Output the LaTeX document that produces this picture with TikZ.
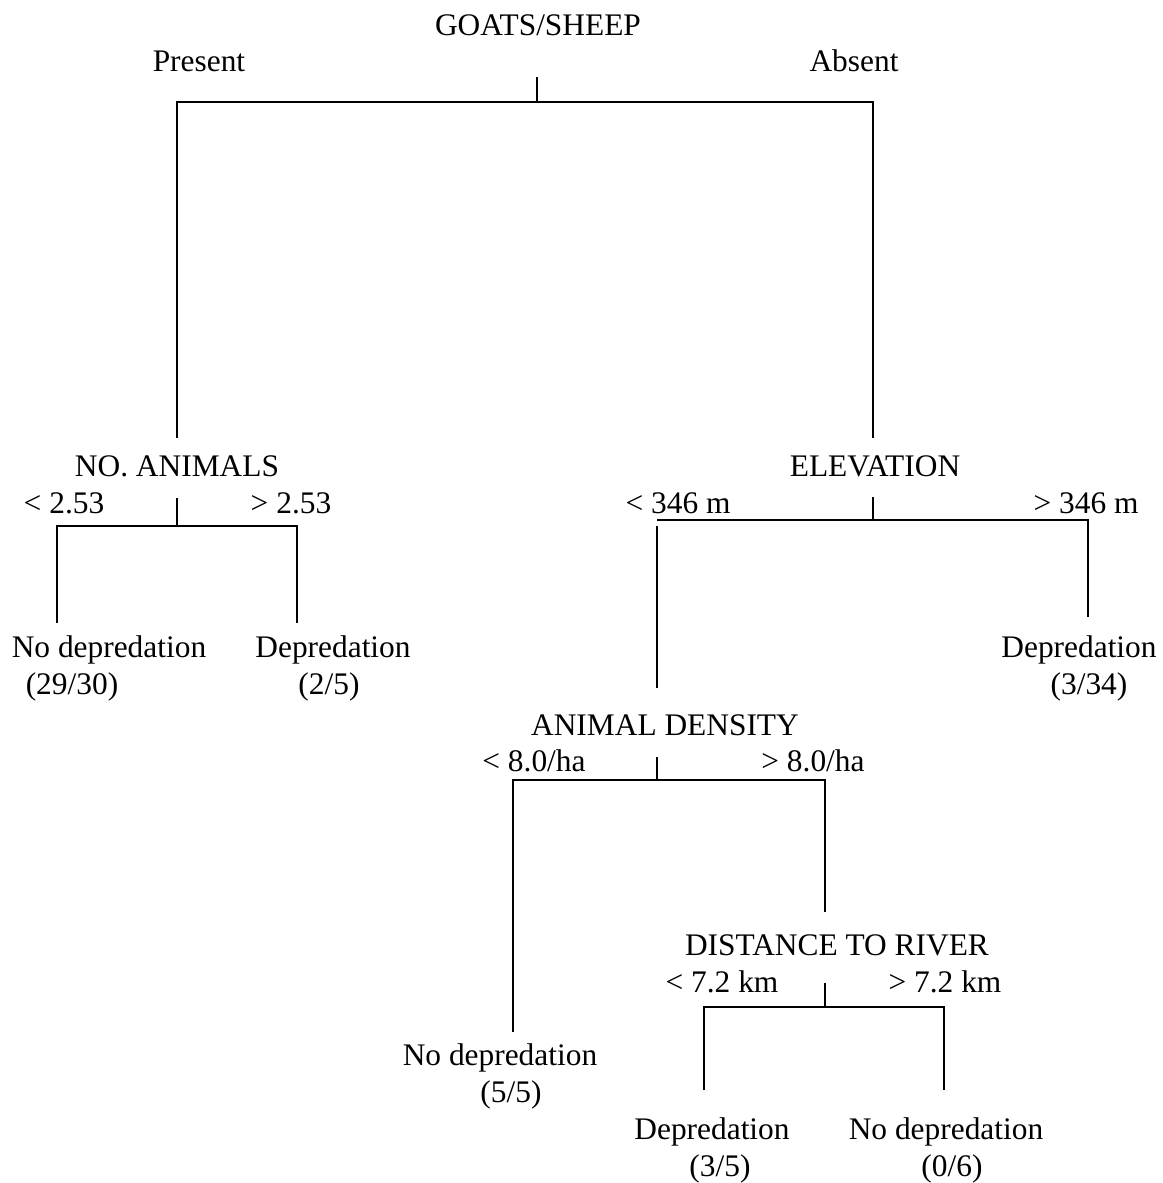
\documentclass[tikz,border=0pt]{standalone}
\usepackage{fontspec}
\setmainfont{Liberation Serif}

\begin{document}
\begin{tikzpicture}[x=0.5pt, y=-0.5pt, line width=1pt,
  lbl/.style={inner sep=0pt, anchor=base, font=\fontsize{15.7}{18.5}\selectfont}]
 \useasboundingbox (0,0) rectangle (1162,1183);
 % goats/sheep
 \node[lbl] (goats) at (538,35) {GOATS/SHEEP};
 \node[lbl] (present) at (199,71) {Present};
 \node[lbl] (absent) at (854,71) {Absent};
 \coordinate (goatsTop) at (537,77);
 \coordinate (goatsMid) at (537,102);
 \coordinate (goatsL) at (177,102);
 \coordinate (goatsR) at (873,102);
 \coordinate (goatsLend) at (177,438);
 \coordinate (goatsRend) at (873,438);
 \draw (goatsTop) -- (goatsMid);
 \draw (goatsLend) -- (goatsL) -- (goatsR) -- (goatsRend);
 % no. animals
 \node[lbl] (animals) at (177,476) {NO. ANIMALS};
 \node[lbl] (animalsLo) at (64,513) {< 2.53};
 \node[lbl] (animalsHi) at (291,513) {> 2.53};
 \coordinate (animalsTop) at (177,498);
 \coordinate (animalsMid) at (177,526);
 \coordinate (animalsL) at (57,526);
 \coordinate (animalsR) at (297,526);
 \coordinate (animalsLend) at (57,623);
 \coordinate (animalsRend) at (297,623);
 \draw (animalsTop) -- (animalsMid);
 \draw (animalsLend) -- (animalsL) -- (animalsR) -- (animalsRend);
 \node[lbl] (leafA) at (109,657) {No depredation};
 \node[lbl] (leafAn) at (72,694) {(29/30)};
 \node[lbl] (leafB) at (333,657) {Depredation};
 \node[lbl] (leafBn) at (329,694) {(2/5)};
 % elevation
 \node[lbl] (elev) at (875,476) {ELEVATION};
 \node[lbl] (elevLo) at (678,513) {< 346 m};
 \node[lbl] (elevHi) at (1086,513) {> 346 m};
 \coordinate (elevTop) at (873,497);
 \coordinate (elevMid) at (873,520);
 \coordinate (elevL) at (657,520);
 \coordinate (elevR) at (1088,520);
 \coordinate (elevLtop) at (657,526);
 \coordinate (elevLend) at (657,688);
 \coordinate (elevRend) at (1088,617);
 \draw (elevTop) -- (elevMid);
 \draw (elevL) -- (elevR) -- (elevRend);
 \draw (elevLtop) -- (elevLend);
 \node[lbl] (leafC) at (1079,657) {Depredation};
 \node[lbl] (leafCn) at (1089,694) {(3/34)};
 % animal density
 \node[lbl] (dens) at (665,735) {ANIMAL DENSITY};
 \node[lbl] (densLo) at (534,771) {< 8.0/ha};
 \node[lbl] (densHi) at (813,771) {> 8.0/ha};
 \coordinate (densTop) at (657,757);
 \coordinate (densMid) at (657,780);
 \coordinate (densL) at (513,780);
 \coordinate (densR) at (825,780);
 \coordinate (densLend) at (513,1032);
 \coordinate (densRend) at (825,912);
 \draw (densTop) -- (densMid);
 \draw (densLend) -- (densL) -- (densR) -- (densRend);
 \node[lbl] (leafD) at (500,1065) {No depredation};
 \node[lbl] (leafDn) at (511,1102) {(5/5)};
 % distance to river
 \node[lbl] (river) at (837,955) {DISTANCE TO RIVER};
 \node[lbl] (riverLo) at (722,992) {< 7.2 km};
 \node[lbl] (riverHi) at (945,992) {> 7.2 km};
 \coordinate (riverTop) at (825,983);
 \coordinate (riverMid) at (825,1007);
 \coordinate (riverL) at (704,1007);
 \coordinate (riverR) at (944,1007);
 \coordinate (riverLend) at (704,1090);
 \coordinate (riverRend) at (944,1090);
 \draw (riverTop) -- (riverMid);
 \draw (riverLend) -- (riverL) -- (riverR) -- (riverRend);
 \node[lbl] (leafE) at (712,1139) {Depredation};
 \node[lbl] (leafEn) at (720,1176) {(3/5)};
 \node[lbl] (leafF) at (946,1139) {No depredation};
 \node[lbl] (leafFn) at (952,1176) {(0/6)};
\end{tikzpicture}
\end{document}
